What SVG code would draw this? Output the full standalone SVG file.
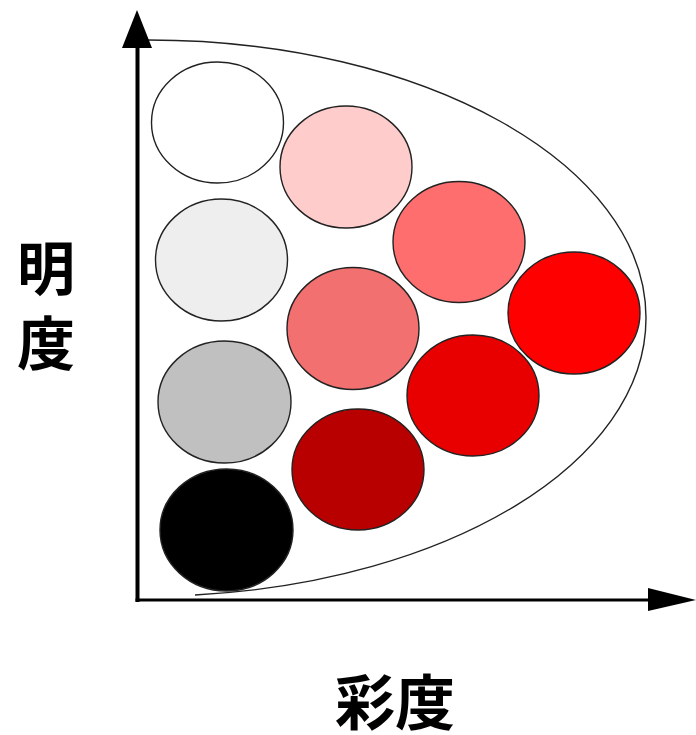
<svg xmlns="http://www.w3.org/2000/svg" width="696" height="735" viewBox="0 0 696 735">
<style>
.c{stroke:#222;stroke-width:1.4}
.t{font-family:"Noto Sans CJK JP","Noto Sans CJK SC",sans-serif;font-weight:bold;fill:#000}
</style>
<rect width="696" height="735" fill="#fff"/>
<g id="connectors">
<path id="envelope" d="M148,40 C423,40 646,164 646,318 C646,463 448,581.5 195,595" fill="none" stroke="#222" stroke-width="1.4"/>
<line x1="137.5" y1="46" x2="137.5" y2="602" stroke="#000" stroke-width="4"/>
<polygon points="137,10 122,48 152,48" fill="#000"/>
<line x1="135.5" y1="600" x2="650" y2="600" stroke="#000" stroke-width="3"/>
<polygon points="696,600 648,588 648,611" fill="#000"/>
</g>
<g id="n1"><ellipse class="c" cx="217.5" cy="122.5" rx="66" ry="60.5" fill="#fff"/></g>
<g id="n2"><ellipse class="c" cx="346" cy="167" rx="66" ry="61" fill="#ffcccc"/></g>
<g id="n3"><ellipse class="c" cx="221.5" cy="260" rx="66" ry="61" fill="#eeeeee"/></g>
<g id="n4"><ellipse class="c" cx="459" cy="242" rx="66" ry="60.5" fill="#ff6e6e"/></g>
<g id="n5"><ellipse class="c" cx="353" cy="328.5" rx="66" ry="61" fill="#f27070"/></g>
<g id="n6"><ellipse class="c" cx="574" cy="313" rx="66" ry="61" fill="#ff0000"/></g>
<g id="n7"><ellipse class="c" cx="224.5" cy="402" rx="66.5" ry="61" fill="#c0c0c0"/></g>
<g id="n8"><ellipse class="c" cx="473" cy="395.5" rx="66" ry="60.5" fill="#e80000"/></g>
<g id="n9"><ellipse class="c" cx="358" cy="469.5" rx="66" ry="60.5" fill="#b80000"/></g>
<g id="n10"><ellipse class="c" cx="226.5" cy="530" rx="66.5" ry="61" fill="#000"/></g>
<g id="labels">
<text class="t" x="46" y="290" font-size="58" text-anchor="middle">明</text>
<text class="t" x="46" y="365" font-size="58" text-anchor="middle">度</text>
<text class="t" x="395" y="725" font-size="60" text-anchor="middle">彩度</text>
</g>
</svg>
